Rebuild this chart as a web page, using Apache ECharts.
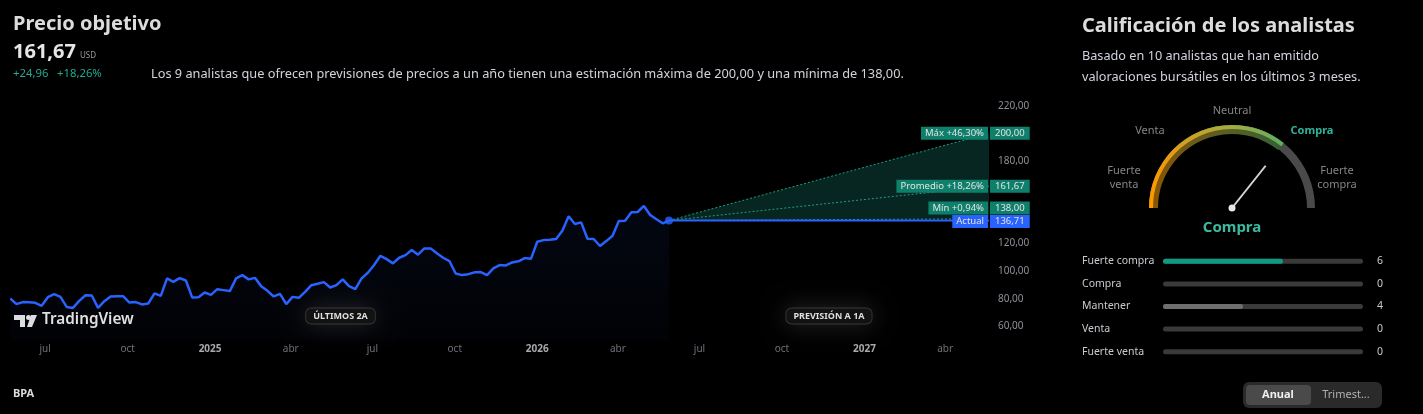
<!DOCTYPE html>
<html>
<head>
<meta charset="utf-8">
<script src="https://cdn.jsdelivr.net/npm/echarts@6/dist/echarts.min.js"></script>
<style>
html, body { margin: 0; padding: 0; background: #000; }
#main { width: 1423px; height: 414px; }
</style>
</head>
<body>
<div id="main"></div>
<script>
const FONT = "'Noto Sans', sans-serif";

// precio semanal de los últimos 2 años
const histValues = [
  80.1, 76.0, 77.5, 77.4, 77.0, 74.8, 81.1, 83.3, 81.3, 74.0, 73.3, 78.4, 82.5, 82.3, 73.3, 78.2,
  81.6, 81.8, 81.8, 77.2, 77.5, 75.8, 76.5, 83.8, 82.0, 94.7, 92.2, 94.9, 93.2, 80.9, 81.1, 84.5,
  82.8, 86.9, 86.2, 85.5, 94.7, 97.1, 94.0, 95.1, 89.1, 85.7, 81.6, 83.5, 76.0, 81.3, 80.6, 85.0,
  89.8, 90.8, 92.0, 88.1, 89.8,
  94.0, 89.1, 86.9, 94.7, 98.8, 104.4, 111.1, 108.7, 105.6, 109.7, 111.6, 115.3, 111.9, 116.5,
  116.5, 112.9, 109.7, 107.3, 98.3, 97.1, 97.8, 99.1, 99.3, 97.1, 102.0, 104.4, 104.1, 106.3,
  107.1, 109.5, 108.9, 121.3, 122.5, 122.8, 123.3, 129.3, 139.8, 134.2, 135.4, 123.5, 123.3,
  118.2, 121.8, 125.7, 136.4, 136.6, 142.7, 142.9, 147.3, 140.7, 137.6, 134.7, 136.71
];
const lastDate = "2026-05-28";
const axisStart = "2024-05-25";
const axisEnd = "2027-05-20";

const currentPrice = 136.71;
const targetMax = 200.0;
const targetAvg = 161.67;
const targetMin = 138.0;

const yLabelsShown = [60, 80, 100, 120, 180, 220];
const monthNames = ["ene", "feb", "mar", "abr", "may", "jun", "jul", "ago", "sep", "oct", "nov", "dic"];
const xTickDates = ["2024-07-01", "2024-10-01", "2025-01-01", "2025-04-01", "2025-07-01", "2025-10-01",
  "2026-01-01", "2026-04-01", "2026-07-01", "2026-10-01", "2027-01-01", "2027-04-01"];

const ratingLabels = ["Fuerte compra", "Compra", "Mantener", "Venta", "Fuerte venta"];
const ratingCounts = [6, 0, 4, 0, 0];
const ratingColors = ["#0f9a83", "#0f9a83", "#6f6f6f", "#6f6f6f", "#6f6f6f"];
const gaugeScore = 0.714;

const t = s => new Date(s + "T00:00:00").getTime();
const DAY = 86400000;
const tLast = t(lastDate);
const tEnd = t(axisEnd);
const histData = histValues.map((v, i) => [tLast - (histValues.length - 1 - i) * 7 * DAY, v]);

const fmt = v => v.toFixed(2).replace(".", ",");
const pct = v => (v >= 0 ? "+" : "") + ((v / currentPrice - 1) * 100).toFixed(2).replace(".", ",") + "%";

const G = { left: 12, top: 92, width: 977, height: 248 };

const option = {
  backgroundColor: "#000",
  animation: false,
  textStyle: { fontFamily: FONT },
  grid: [
    { left: G.left, top: G.top, width: G.width, height: G.height },
    { left: 1163, top: 250, width: 200, height: 113 }
  ],
  xAxis: [
    {
      type: "value", gridIndex: 0, min: t(axisStart), max: tEnd,
      axisLine: { show: false }, axisTick: { show: false }, splitLine: { show: false },
      axisLabel: {
        customValues: xTickDates.map(t),
        margin: 4,
        formatter: function (val) {
          const d = new Date(val);
          return d.getMonth() === 0 ? "{y|" + d.getFullYear() + "}" : "{m|" + monthNames[d.getMonth()] + "}";
        },
        rich: {
          m: { color: "#6f7078", fontSize: 10, fontFamily: FONT },
          y: { color: "#a8a8ad", fontSize: 10, fontWeight: "bold", fontFamily: FONT }
        }
      }
    },
    { type: "value", gridIndex: 1, min: 0, max: 10, show: false }
  ],
  yAxis: [
    {
      type: "value", gridIndex: 0, position: "right", min: 50, max: 230, interval: 10,
      axisLine: { show: false }, axisTick: { show: false }, splitLine: { show: false },
      axisLabel: {
        margin: 9, color: "#8e9099", fontSize: 10,
        formatter: v => (yLabelsShown.indexOf(v) >= 0 ? fmt(v) : "")
      }
    },
    {
      type: "category", gridIndex: 1, inverse: true, data: ratingLabels,
      axisLine: { show: false }, axisTick: { show: false },
      axisLabel: { align: "left", margin: 81, color: "#c8cad0", fontSize: 10.5 }
    },
    {
      type: "category", gridIndex: 1, inverse: true, position: "right",
      data: ratingCounts.map(String),
      axisLine: { show: false }, axisTick: { show: false },
      axisLabel: { align: "left", margin: 14, color: "#c8cad0", fontSize: 10.5 }
    }
  ],
  series: [
    {
      // abanico de previsión entre máximo y mínimo
      type: "custom", silent: true, z: 1,
      data: [[tLast, currentPrice, targetMax, targetMin]],
      renderItem: function (params, api) {
        return {
          type: "polygon",
          shape: {
            points: [
              api.coord([api.value(0), api.value(1)]),
              api.coord([tEnd, api.value(2)]),
              api.coord([tEnd, api.value(3)])
            ]
          },
          style: { fill: "rgba(34,171,148,0.22)" }
        };
      }
    },
    ...[targetMax, targetAvg, targetMin].map(v => ({
      type: "line", symbol: "none", silent: true, z: 2,
      data: [[tLast, currentPrice], [tEnd, v]],
      lineStyle: { color: "#1f9c84", width: 1, type: [2, 2] }
    })),
    {
      type: "line", symbol: "none", silent: true, z: 3,
      data: [[tLast, currentPrice], [tEnd, currentPrice]],
      lineStyle: { color: "#2962ff", width: 2 }
    },
    {
      name: "Precio", type: "line", symbol: "none", z: 4,
      data: histData,
      lineStyle: { color: "#2962ff", width: 2.5 },
      areaStyle: {
        color: new echarts.graphic.LinearGradient(0, 0, 0, 1, [
          { offset: 0, color: "rgba(41,98,255,0.10)" },
          { offset: 1, color: "rgba(41,98,255,0.03)" }
        ])
      }
    },
    {
      type: "scatter", z: 5, symbolSize: 8,
      data: [[tLast, currentPrice]],
      itemStyle: { color: "#2962ff" }
    },
    {
      type: "bar", xAxisIndex: 1, yAxisIndex: 1, barWidth: 5,
      data: ratingCounts.map((v, i) => ({ value: v, itemStyle: { color: ratingColors[i] } })),
      itemStyle: { borderRadius: 3 },
      showBackground: true,
      backgroundStyle: { color: "#3a3a3a", borderRadius: 3 }
    },
    {
      type: "gauge", center: [1232, 208], radius: 83, startAngle: 180, endAngle: 0, min: 0, max: 1,
      axisLine: { lineStyle: { width: 8, color: [[1, "#4a4a4a"]] } },
      progress: {
        show: true, width: 9,
        itemStyle: {
          color: new echarts.graphic.LinearGradient(0, 0, 1, 0, [
            { offset: 0, color: "#8c5400" }, { offset: 0.3, color: "#6e5a16" },
            { offset: 0.6, color: "#585e22" }, { offset: 1, color: "#345f38" }
          ])
        }
      },
      pointer: { show: false }, anchor: { show: false },
      splitLine: { show: false }, axisTick: { show: false }, axisLabel: { show: false },
      title: { show: false }, detail: { show: false },
      data: [{ value: gaugeScore }]
    },
    {
      type: "gauge", center: [1232, 208], radius: 83, startAngle: 180, endAngle: 0, min: 0, max: 1,
      axisLine: { show: false },
      progress: {
        show: true, width: 4,
        itemStyle: {
          color: new echarts.graphic.LinearGradient(0, 0, 1, 0, [
            { offset: 0, color: "#ff9800" }, { offset: 0.3, color: "#c9a227" },
            { offset: 0.6, color: "#a3ab3f" }, { offset: 1, color: "#5fae62" }
          ])
        }
      },
      pointer: { show: true, icon: "rect", length: 54, width: 2, offsetCenter: [0, 0], itemStyle: { color: "#d6d6d6" } },
      anchor: { show: true, size: 7, showAbove: true, itemStyle: { color: "#e6e6e6" } },
      splitLine: { show: false }, axisTick: { show: false }, axisLabel: { show: false },
      title: { show: false }, detail: { show: false },
      data: [{ value: gaugeScore }]
    }
  ]
};

const chart = echarts.init(document.getElementById("main"));
chart.setOption(option);

// etiquetas y decoraciones calculadas con las escalas del gráfico
const px = (d, v) => chart.convertToPixel({ gridIndex: 0 }, [d, v]);
const gridRight = G.left + G.width;
const gridBottom = G.top + G.height;

function txt(x, y, text, size, color, extra) {
  return {
    type: "text", x: x, y: y, silent: true, z: 100,
    style: Object.assign({ text: text, fill: color, fontSize: size, fontFamily: FONT, verticalAlign: "middle" }, extra || {})
  };
}

function tagPair(yc, left, right, bg) {
  return [
    txt(gridRight - 1, yc, left, 9.5, "#e4e4e4", { align: "right", backgroundColor: bg, padding: [1, 4, 1, 4], lineHeight: 11 }),
    txt(gridRight + 1, yc, right, 9.5, "#e4e4e4", { align: "left", backgroundColor: bg, padding: [1, 5, 1, 5], lineHeight: 11 })
  ];
}

const yMax = px(tEnd, targetMax)[1];
const yAvg = px(tEnd, targetAvg)[1];
let yMin = px(tEnd, targetMin)[1];
const yAct = px(tEnd, currentPrice)[1] + 1;
if (yAct - yMin < 13.5) yMin = yAct - 13.5;

const green = "#0e7f6b";
const graphics = [
  txt(13, 24, "Precio objetivo", 20, "#dcdcdc", { fontWeight: "bold" }),
  txt(13, 52, "161,67", 20, "#e6e6e6", { fontWeight: "bold" }),
  txt(80, 56, "USD", 8, "#9a9a9a"),
  txt(13, 74, "+24,96", 11.3, "#22ab94"),
  txt(57, 74, "+18,26%", 11.3, "#22ab94"),
  txt(151, 74, "Los 9 analistas que ofrecen previsiones de precios a un año tienen una estimación máxima de 200,00 y una mínima de 138,00.", 12.75, "#d1d4dc"),

  txt(1082, 26, "Calificación de los analistas", 20, "#dcdcdc", { fontWeight: "bold" }),
  txt(1082, 56, "Basado en 10 analistas que han emitido", 12.7, "#d1d4dc"),
  txt(1082, 77, "valoraciones bursátiles en los últimos 3 meses.", 12.7, "#d1d4dc"),

  txt(1232, 111, "Neutral", 11, "#858585", { align: "center" }),
  txt(1150, 131, "Venta", 11, "#858585", { align: "center" }),
  txt(1312, 131, "Compra", 11, "#2fb39b", { align: "center", fontWeight: "bold" }),
  txt(1124, 178, "Fuerte\nventa", 11, "#858585", { align: "center", lineHeight: 14 }),
  txt(1337, 178, "Fuerte\ncompra", 11, "#858585", { align: "center", lineHeight: 14 }),
  txt(1232, 228, "Compra", 15, "#3cb9a2", { align: "center", fontWeight: "bold" }),

  txt(13, 394, "BPA", 11, "#dcdcdc", { fontWeight: "bold" }),
  { type: "rect", shape: { x: 1243, y: 382, width: 139, height: 26, r: 6 }, style: { fill: "#2a2a2a" }, silent: true },
  { type: "rect", shape: { x: 1246, y: 385, width: 65, height: 20, r: 4 }, style: { fill: "#4a4a4a" }, silent: true },
  txt(1278, 395, "Anual", 11, "#f0f0f0", { align: "center", fontWeight: "bold" }),
  txt(1346, 395, "Trimest...", 11, "#b0b0b0", { align: "center" }),

  // logo TradingView
  { type: "polygon", shape: { points: [[14, 315], [25, 315], [25, 327], [20, 327], [20, 320], [14, 320]] }, style: { fill: "#e0e0e0" }, silent: true },
  { type: "circle", shape: { cx: 28.5, cy: 317.5, r: 2.5 }, style: { fill: "#e0e0e0" }, silent: true },
  { type: "polygon", shape: { points: [[31, 315], [37, 315], [32, 327], [27, 327]] }, style: { fill: "#e0e0e0" }, silent: true },
  txt(42, 320, "TradingView", 15.3, "#e0e0e0", { fontWeight: 600 })
];

// píldoras de periodo
const histMid = px((t(axisStart) + tLast) / 2, 100)[0];
const fcMid = px((tLast + tEnd) / 2, 100)[0];
[[histMid, "ÚLTIMOS 2A"], [fcMid, "PREVISIÓN A 1A"]].forEach(function (p) {
  graphics.push(txt(p[0], gridBottom - 24, p[1], 9, "#dedede", {
    align: "center", fontWeight: "bold", backgroundColor: "#121212",
    borderColor: "#2e2e2e", borderWidth: 1, borderRadius: 5, padding: [3, 7, 3, 7],
    shadowColor: "rgba(255,255,255,0.14)", shadowBlur: 24
  }));
});

graphics.push(
  ...tagPair(yMax, "Máx " + pct(targetMax), fmt(targetMax), green),
  ...tagPair(yAvg, "Promedio " + pct(targetAvg), fmt(targetAvg), green),
  ...tagPair(yMin, "Mín " + pct(targetMin), fmt(targetMin), green),
  ...tagPair(yAct, "Actual", fmt(currentPrice), "#2962ff")
);

chart.setOption({ graphic: graphics });
</script>
</body>
</html>
